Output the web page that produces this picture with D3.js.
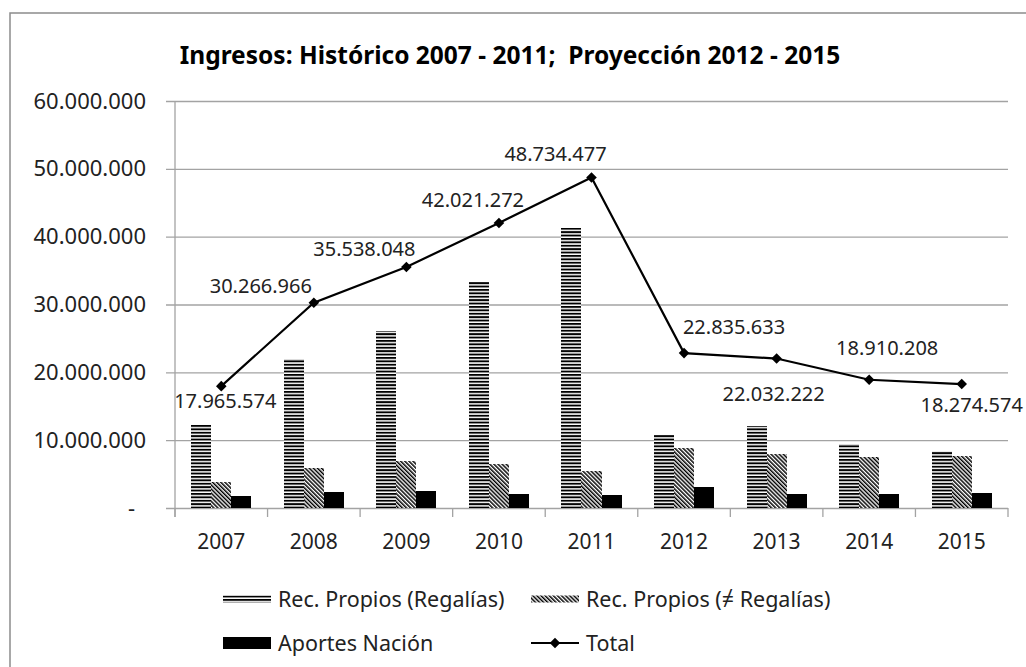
<!DOCTYPE html>
<html>
<head>
<meta charset="utf-8">
<script src="https://cdn.jsdelivr.net/npm/d3@7"></script>
<style>
  body { margin: 0; background: white; }
  text { font-family: "Noto Sans", "DejaVu Sans", sans-serif; fill: #222; }
</style>
</head>
<body>
<svg width="1026" height="667"></svg>
<script>
// data (pesos)
var years = ['2007', '2008', '2009', '2010', '2011', '2012', '2013', '2014', '2015'];
var regalias = [12300000, 22000000, 26100000, 33300000, 41300000, 10800000, 12100000, 9400000, 8400000];
var otrosPropios = [3900000, 5900000, 6900000, 6500000, 5500000, 8900000, 8000000, 7500000, 7700000];
var aportesNacion = [1700000, 2400000, 2500000, 2100000, 1900000, 3100000, 2000000, 2000000, 2200000];
var total = [17965574, 30266966, 35538048, 42021272, 48734477, 22835633, 22032222, 18910208, 18274574];
var seriesNames = ['Rec. Propios (Regalías)', 'Rec. Propios (≠ Regalías)', 'Aportes Nación', 'Total'];
var yTicks = [0, 10000000, 20000000, 30000000, 40000000, 50000000, 60000000];

var svg = d3.select('svg');

// spanish number format
var es = d3.formatLocale({decimal: ',', thousands: '.', grouping: [3], currency: ['$', '']});
var fmt = es.format(',d');

// patterns
var defs = svg.append('defs');
var ph = defs.append('pattern')
    .attr('id', 'horiz')
    .attr('patternUnits', 'userSpaceOnUse')
    .attr('width', 8).attr('height', 3.4);
ph.append('rect').attr('width', 8).attr('height', 3.4).attr('fill', 'white');
ph.append('rect').attr('width', 8).attr('height', 1.9).attr('fill', 'black');

var pd = defs.append('pattern')
    .attr('id', 'diag')
    .attr('patternUnits', 'userSpaceOnUse')
    .attr('width', 2.9).attr('height', 8)
    .attr('patternTransform', 'rotate(-45)');
pd.append('rect').attr('width', 2.9).attr('height', 8).attr('fill', 'white');
pd.append('rect').attr('width', 1.5).attr('height', 8).attr('fill', 'black');

// outer border
svg.append('rect')
    .attr('x', 10).attr('y', 13)
    .attr('width', 1040).attr('height', 680)
    .attr('fill', 'none')
    .attr('stroke', '#8c8c8c')
    .attr('stroke-width', 1.5);

// title
svg.append('text')
    .attr('x', 510).attr('y', 64)
    .attr('text-anchor', 'middle')
    .style('font-size', '24.5px')
    .style('font-weight', 'bold')
    .style('white-space', 'pre')
    .style('fill', '#000')
    .text('Ingresos: Histórico 2007 - 2011;  Proyección 2012 - 2015');

// scales
var plotLeft = 175, plotRight = 1008, plotTop = 101, plotBottom = 508;

var x = d3.scaleBand()
    .domain(years)
    .range([plotLeft, plotRight]);

var sub = d3.scaleBand()
    .domain([0, 1, 2])
    .range([0, x.bandwidth()])
    .paddingOuter(0.81);

var y = d3.scaleLinear()
    .domain([0, 60000000])
    .range([plotBottom, plotTop]);

// y axis with gridlines
var yAxis = d3.axisLeft(y)
    .tickValues(yTicks)
    .tickSizeInner(plotRight - 166)
    .tickSizeOuter(0)
    .tickPadding(20)
    .tickFormat(function (d) { return d === 0 ? '-' : fmt(d); });

var gy = svg.append('g')
    .attr('transform', 'translate(' + plotRight + ',0)')
    .call(yAxis);
gy.select('.domain').remove();
gy.selectAll('.tick line').attr('stroke', '#a3a3a3').attr('stroke-width', 1.3);
gy.selectAll('.tick text')
    .attr('fill', '#222')
    .style('font-size', '22px')
    .style('font-family', '"Noto Sans", sans-serif')
    .attr('dx', function (d) { return d === 0 ? -11 : 0; });

// vertical axis line
svg.append('line')
    .attr('x1', plotLeft).attr('x2', plotLeft)
    .attr('y1', plotTop).attr('y2', plotBottom + 9)
    .attr('stroke', '#a3a3a3').attr('stroke-width', 1.3);

// x axis ticks at category borders
var borders = years.map(function (d) { return x(d); }).concat([plotRight]);
svg.selectAll('.xtick')
    .data(borders)
    .enter().append('line')
    .attr('class', 'xtick')
    .attr('x1', function (d) { return d; })
    .attr('x2', function (d) { return d; })
    .attr('y1', plotBottom).attr('y2', plotBottom + 9)
    .attr('stroke', '#a3a3a3').attr('stroke-width', 1.3);

var xAxis = d3.axisBottom(x).tickSize(0).tickPadding(26);
var gx = svg.append('g')
    .attr('transform', 'translate(0,' + plotBottom + ')')
    .call(xAxis);
gx.select('.domain').remove();
gx.selectAll('.tick text')
    .attr('fill', '#222')
    .style('font-size', '21px')
    .style('font-family', '"Noto Sans", sans-serif');

// bars
var barSeries = [
    { values: regalias, fill: 'url(#horiz)' },
    { values: otrosPropios, fill: 'url(#diag)' },
    { values: aportesNacion, fill: 'black' }
];

barSeries.forEach(function (s, si) {
    svg.append('g').selectAll('rect')
	.data(s.values)
	.enter().append('rect')
	.attr('x', function (d, i) { return x(years[i]) + sub(si); })
	.attr('width', sub.bandwidth())
	.attr('y', function (d) { return y(d); })
	.attr('height', function (d) { return plotBottom - y(d); })
	.attr('fill', s.fill)
	.attr('shape-rendering', 'crispEdges');
});

// total line
var line = d3.line()
    .x(function (d, i) { return x(years[i]) + x.bandwidth() / 2; })
    .y(function (d) { return y(d); });

svg.append('path')
    .datum(total)
    .attr('d', line)
    .attr('fill', 'none')
    .attr('stroke', 'black')
    .attr('stroke-width', 2.2);

var diamond = d3.symbol().type(d3.symbolSquare).size(56);

svg.append('g').selectAll('path')
    .data(total)
    .enter().append('path')
    .attr('d', diamond)
    .attr('fill', 'black')
    .attr('transform', function (d, i) {
	return 'translate(' + (x(years[i]) + x.bandwidth() / 2) + ',' + y(d) + ') rotate(45)';
    });

// data labels, hand placed like in the original
var labelOffset = [[4, 15], [-53, -17], [-42, -18], [-26, -23], [-36, -23],
		   [50, -26], [-3, 35], [18, -32], [10, 21]];

svg.append('g').selectAll('text')
    .data(total)
    .enter().append('text')
    .attr('x', function (d, i) { return x(years[i]) + x.bandwidth() / 2 + labelOffset[i][0]; })
    .attr('y', function (d, i) { return y(d) + labelOffset[i][1]; })
    .attr('dy', '0.35em')
    .attr('text-anchor', 'middle')
    .style('font-size', '20px')
    .text(function (d) { return fmt(d); });

// legend
var legend = [
    { x: 223, y: 599, kind: 'rect', fill: 'url(#horiz)', h: 7 },
    { x: 531, y: 599, kind: 'rect', fill: 'url(#diag)', h: 7 },
    { x: 223, y: 643, kind: 'rect', fill: 'black', h: 12 },
    { x: 531, y: 643, kind: 'line' }
];

legend.forEach(function (l, i) {
    var g = svg.append('g').attr('transform', 'translate(' + l.x + ',' + l.y + ')');
    if (l.kind === 'rect') {
	g.append('rect')
	    .attr('x', 0).attr('y', -l.h / 2)
	    .attr('width', 48).attr('height', l.h)
	    .attr('fill', l.fill);
    } else {
	g.append('line')
	    .attr('x1', 0).attr('x2', 48)
	    .attr('stroke', 'black').attr('stroke-width', 2.2);
	g.append('path')
	    .attr('d', diamond)
	    .attr('transform', 'translate(24,0) rotate(45)')
	    .attr('fill', 'black');
    }
    g.append('text')
	.attr('x', 55)
	.attr('dy', '0.35em')
	.style('font-size', '21.5px')
	.text(seriesNames[i]);
});
</script>
</body>
</html>
